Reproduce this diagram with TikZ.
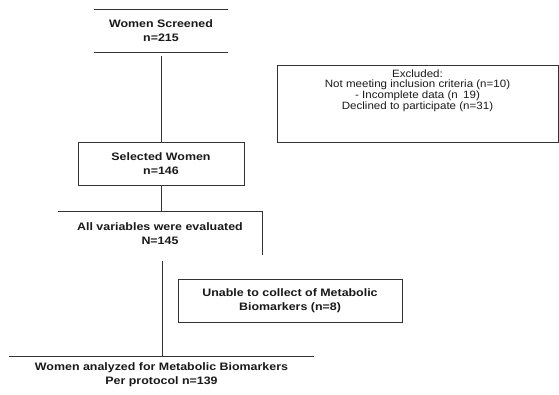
\documentclass[tikz,border=0pt]{standalone}
\usepackage{fontspec}
\setmainfont{Liberation Sans}[FakeStretch=1.15]
\newfontfamily\exfont{Liberation Sans}[FakeStretch=1.09]
\begin{document}
\begin{tikzpicture}[x=1pt,y=-1pt,
  ln/.style={line width=1pt, draw=black!80},
  bbox/.style={align=center, inner sep=0pt, text=black!90,
    font=\bfseries\fontsize{10.8}{14}\selectfont},
  rbox/.style={align=center, inner sep=0pt, text=black!90,
    font=\exfont\fontsize{10.6}{10.6}\selectfont}]
\useasboundingbox (0,0) rectangle (559,394);
% nodes
\node[bbox, minimum width=134, minimum height=42] (ts) at (161,31) {Women Screened\\n=215};
\node[bbox, ln, draw, minimum width=166, minimum height=43] (sel) at (161,163.5) {Selected Women\\n=146};
\node[bbox, minimum width=204, minimum height=43] (all) at (160,233.5) {All variables were evaluated\\N=145};
\node[ln, draw, minimum width=281, minimum height=77, inner sep=0pt] (exc) at (417.5,103.5) {};
\node[rbox] (exct) at (417.5,90.5)
  {Excluded:\\Not meeting inclusion criteria (n=10)\\- Incomplete data (n\enspace 19)\\Declined to participate (n=31)};
\node[bbox, ln, draw, minimum width=224, minimum height=43] (una) at (290,300.5)
  {Unable to collect of Metabolic\\Biomarkers (n=8)};
\node[bbox, minimum width=305, minimum height=36] (fin) at (161.5,375)
  {Women analyzed for Metabolic Biomarkers\\Per protocol n=139};
% partial borders
\draw[ln] (ts.north west) -- (ts.north east);
\draw[ln] (ts.south west) -- (ts.south east);
\draw[ln] (all.north west) -- (all.north east) -- (all.south east);
\draw[ln] (fin.north west) -- (fin.north east);
% connectors
\coordinate (tsb) at (161,56);
\coordinate (allb) at (162,261);
\draw[ln] (tsb) -- (tsb |- sel.north);
\draw[ln] (sel.south) -- (sel.south |- all.north);
\draw[ln] (allb) -- (allb |- fin.north);
\end{tikzpicture}
\end{document}
